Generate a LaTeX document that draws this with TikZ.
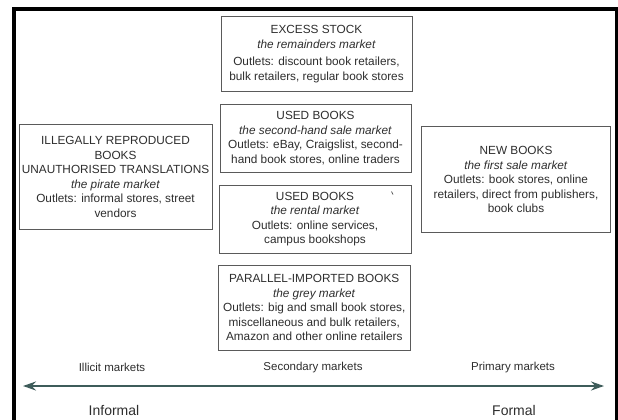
\documentclass[tikz,border=0pt]{standalone}
\usepackage{fontspec}
\setmainfont{Liberation Sans}
\usetikzlibrary{arrows.meta}
\definecolor{txt}{HTML}{2E2E2E}
\definecolor{boxgray}{HTML}{5A5A5A}
\definecolor{axis}{HTML}{3E5C5A}
\tikzset{
  mbox/.style={draw=boxgray, line width=0.8pt, align=center, text=txt,
    font=\fontsize{11.8}{14.5}\selectfont, inner sep=0pt},
  axlabel/.style={text=txt, font=\fontsize{11.5}{13}\selectfont, inner sep=0pt},
  endlabel/.style={text=txt, font=\fontsize{14}{16}\selectfont, inner sep=0pt},
}
\begin{document}
\begin{tikzpicture}[x=1pt,y=-1pt]
\path[use as bounding box] (0,0) rectangle (618,420);
\clip (0,0) rectangle (618,420);
\fill[white] (0,0) rectangle (618,420);
\draw[black, line width=4pt] (13.7,8.7) rectangle (616.5,440);

\node[mbox, minimum width=191pt, minimum height=75pt] (excess) at (316.5,54)
  {EXCESS STOCK\\ \textit{the remainders market}\\[3pt]
   Outlets: discount book retailers,\\ bulk retailers, regular book stores};
\node[mbox, minimum width=191pt, minimum height=68.5pt] (usedsale) at (315.5,138.25)
  {USED BOOKS\\ \textit{the second-hand sale market}\\
   Outlets: eBay, Craigslist, second-\\ hand book stores, online traders};
\node[mbox, minimum width=192pt, minimum height=67.5pt] (rental) at (315,219.25)
  {USED BOOKS\\ \textit{the rental market}\\
   Outlets: online services,\\ campus bookshops};
\node[mbox, minimum width=191.5pt, minimum height=85pt] (grey) at (314.25,307.5)
  {PARALLEL-IMPORTED BOOKS\\ \textit{the grey market}\\
   Outlets: big and small book stores,\\ miscellaneous and bulk retailers,\\
   Amazon and other online retailers};
\node[mbox, minimum width=193pt, minimum height=105pt] (pirate) at (115.5,177)
  {ILLEGALLY REPRODUCED\\ BOOKS\\ UNAUTHORISED TRANSLATIONS\\
   \textit{the pirate market}\\ Outlets: informal stores, street\\ vendors};
\node[mbox, minimum width=189pt, minimum height=106pt] (newbooks) at (516,179.5)
  {NEW BOOKS\\ \textit{the first sale market}\\
   Outlets: book stores, online\\ retailers, direct from publishers,\\ book clubs};

\draw[boxgray, line width=0.7pt] (391.5,191.5) -- (393,194.5);

\coordinate (axL) at (23,386);
\coordinate (axR) at (604,386);
\draw[axis, line width=2pt, {Stealth[length=13pt,width=9pt]}-{Stealth[length=13pt,width=9pt]}] (axL) -- (axR);

\node[axlabel] (illicit) at (112,367.5) {Illicit markets};
\node[axlabel] (secondary) at (313,368) {Secondary markets};
\node[axlabel] (primary) at (513,368) {Primary markets};
\node[endlabel] (informal) at (114,410) {Informal};
\node[endlabel] (formal) at (514,410) {Formal};
\end{tikzpicture}
\end{document}
